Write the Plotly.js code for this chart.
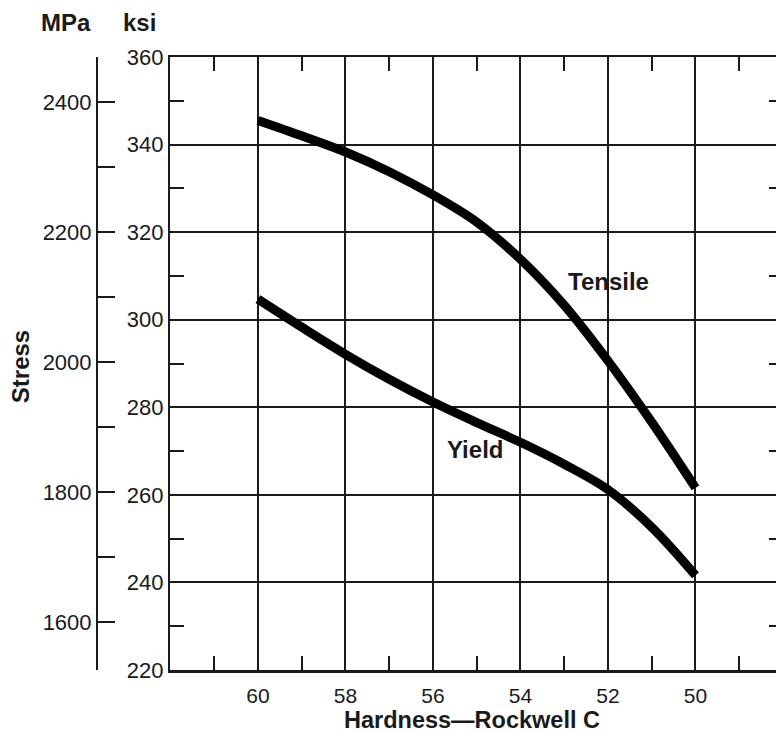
<!DOCTYPE html>
<html>
<head>
<meta charset="utf-8">
<script src="https://cdn.plot.ly/plotly-3.0.1.min.js"></script>
<style>
html,body{margin:0;padding:0;overflow:hidden;background:#fff;}
#chart{width:790px;height:732px;}
</style>
</head>
<body>
<div id="chart"></div>
<script>
// Hardness (Rockwell C) sample points
const tensileHRC = [60, 59, 58, 57, 56, 55, 54, 53, 52, 51, 50];
const tensileKsi = [345.5, 342.0, 338.3, 333.8, 328.5, 322.3, 313.8, 303.3, 290.6, 276.6, 261.6];
const yieldHRC = [60, 59, 58, 57, 56, 55, 54, 53, 52, 51, 50];
const yieldKsi = [304.7, 298.3, 292.1, 286.4, 281.2, 276.5, 272.0, 267.0, 261.2, 252.6, 241.6];

const hardnessTicks = [60, 58, 56, 54, 52, 50];
const ksiTicks = [220, 240, 260, 280, 300, 320, 340, 360];
const mpaTicks = [1600, 1700, 1800, 1900, 2000, 2100, 2200, 2300, 2400];
const mpaTickText = ['1600', '', '1800', '', '2000', '', '2200', '', '2400'];

const INK = '#1a1a1a';
const FONT = 'Liberation Sans, Arial, Helvetica, sans-serif';
const TICK = {size: 22, family: FONT, color: INK};
const XTICK = {size: 21, family: FONT, color: INK};
const LAB = {size: 24, family: FONT, color: INK};

const traces = [
  {x: tensileHRC, y: tensileKsi, mode: 'lines', line: {color: '#000', width: 9, shape: 'spline', smoothing: 1}, hoverinfo: 'skip', name: 'Tensile'},
  {x: yieldHRC, y: yieldKsi, mode: 'lines', line: {color: '#000', width: 9, shape: 'spline', smoothing: 1}, hoverinfo: 'skip', name: 'Yield'},
  {x: [], y: [], yaxis: 'y2', mode: 'lines', hoverinfo: 'skip', showlegend: false}
];

const layout = {
  width: 790, height: 732,
  margin: {l: 20, r: 7, t: 57, b: 62},
  paper_bgcolor: '#fff', plot_bgcolor: '#fff',
  showlegend: false,
  font: {family: FONT, color: INK, size: 22},
  xaxis: {
    domain: [0.1972, 1],
    range: [62, 48],
    tickvals: hardnessTicks,
    ticks: '',
    ticklabelstandoff: 5,
    showgrid: true, gridcolor: INK, gridwidth: 2,
    showline: true, linecolor: INK, linewidth: 2.5, mirror: 'allticks',
    zeroline: false,
    tickfont: XTICK,
    minor: {tick0: 61, dtick: 2, ticks: 'inside', ticklen: 14, tickwidth: 2, tickcolor: INK, showgrid: false}
  },
  yaxis: {
    range: [220, 360],
    tickvals: ksiTicks,
    ticks: '',
    showgrid: true, gridcolor: INK, gridwidth: 2,
    showline: true, linecolor: INK, linewidth: 2.5, mirror: 'allticks',
    zeroline: false,
    tickfont: TICK,
    minor: {tick0: 230, dtick: 20, ticks: 'inside', ticklen: 14, tickwidth: 2, tickcolor: INK, showgrid: false}
  },
  yaxis2: {
    overlaying: 'y', anchor: 'free', position: 0.1009, side: 'left',
    range: [1526, 2469],
    tickvals: mpaTicks, ticktext: mpaTickText,
    ticks: 'inside', ticklen: 17, tickwidth: 2, tickcolor: INK,
    showgrid: false, zeroline: false,
    showline: true, linecolor: INK, linewidth: 2.5,
    tickfont: TICK
  },
  annotations: [
    {xref: 'x', yref: 'y', x: 51.98, y: 308.8, xanchor: 'center', yanchor: 'middle', text: '<b>Tensile</b>', showarrow: false, font: LAB},
    {xref: 'x', yref: 'y', x: 55.04, y: 270.3, xanchor: 'center', yanchor: 'middle', text: '<b>Yield</b>', showarrow: false, font: LAB},
    {xref: 'paper', yref: 'paper', x: 0, y: 0.494, xanchor: 'center', yanchor: 'middle', text: '<b>Stress</b>', textangle: -90, showarrow: false, font: LAB},
    {xref: 'paper', yref: 'paper', x: 0.0603, y: 1.0555, xanchor: 'center', yanchor: 'middle', text: '<b>MPa</b>', showarrow: false, font: LAB},
    {xref: 'paper', yref: 'paper', x: 0.156, y: 1.0555, xanchor: 'center', yanchor: 'middle', text: '<b>ksi</b>', showarrow: false, font: LAB},
    {xref: 'paper', yref: 'paper', x: 0.5926, y: -0.0815, xanchor: 'center', yanchor: 'middle', text: '<b>Hardness\u2014Rockwell C</b>', showarrow: false, font: {size: 23.5, family: FONT, color: INK}}
  ]
};

Plotly.newPlot('chart', traces, layout, {displayModeBar: false, staticPlot: true});
</script>
</body>
</html>
